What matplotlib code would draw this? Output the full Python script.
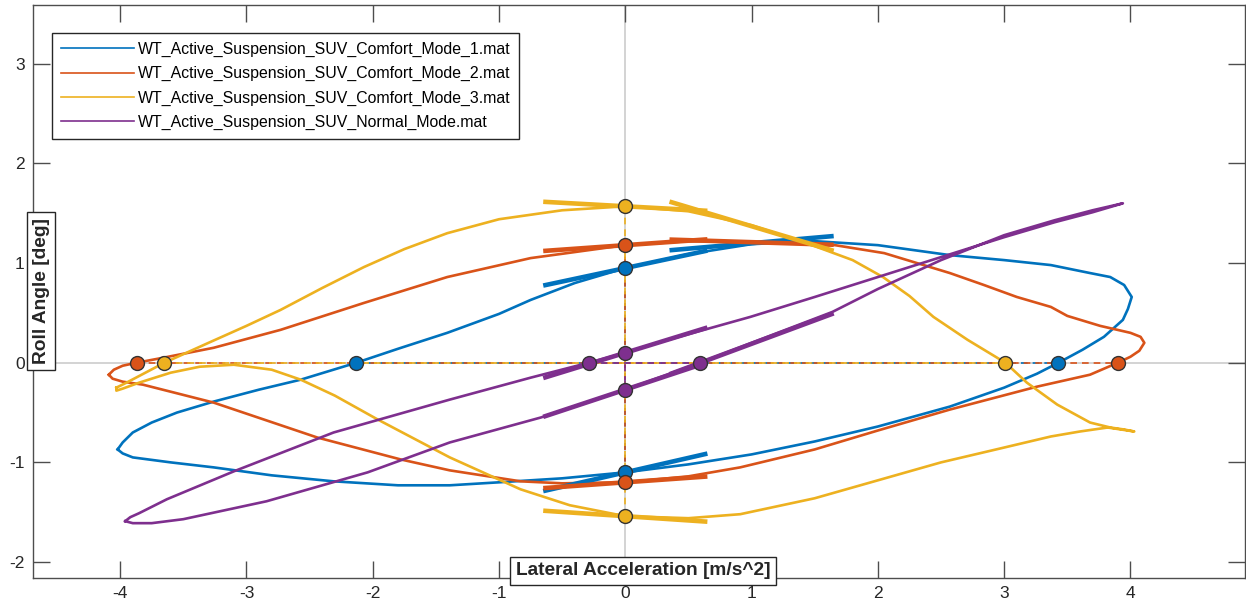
import matplotlib.pyplot as plt
from matplotlib.lines import Line2D
from matplotlib import font_manager
import numpy as np

plt.rcParams['font.family'] = ['Liberation Sans', 'DejaVu Sans']
plt.rcParams['axes.unicode_minus'] = False

names = ["WT_Active_Suspension_SUV_Comfort_Mode_1.mat",
         "WT_Active_Suspension_SUV_Comfort_Mode_2.mat",
         "WT_Active_Suspension_SUV_Comfort_Mode_3.mat",
         "WT_Active_Suspension_SUV_Normal_Mode.mat"]
colors = ["#0072BD", "#D95319", "#EDB120", "#7E2F8E"]

# lateral acceleration [m/s^2] vs roll angle [deg], one closed loop per run
comf1_ay = [-4.02, -3.98, -3.9, -3.75, -3.55, -3.26, -2.9, -2.57, -2.13, -1.8, -1.41, -1.0, -0.75, -0.4, 0.0,
            0.5, 1.0, 1.5, 2.0, 2.57, 3.0, 3.37, 3.68, 3.84, 3.95, 4.01, 3.98, 3.94, 3.79, 3.62, 3.43,
            3.26, 3.0, 2.57, 2.0, 1.5, 1.0, 0.5, 0.0, -0.5, -1.0, -1.39, -1.8, -2.31, -2.8, -3.26,
            -3.6, -3.9, -3.98, -4.02]
comf1_roll = [-0.87, -0.8, -0.7, -0.6, -0.5, -0.39, -0.27, -0.17, 0.0, 0.14, 0.3, 0.49, 0.63, 0.8, 0.95,
              1.09, 1.19, 1.22, 1.18, 1.08, 1.03, 0.98, 0.9, 0.86, 0.78, 0.66, 0.54, 0.43, 0.26, 0.13, 0.0,
              -0.11, -0.25, -0.44, -0.64, -0.79, -0.92, -1.02, -1.1, -1.16, -1.2, -1.23, -1.23, -1.19, -1.13, -1.05,
              -1.0, -0.95, -0.91, -0.87]

comf2_ay = [-4.09, -4.05, -3.98, -3.87, -3.66, -3.26, -2.73, -2.07, -1.41, -0.75, 0.0, 0.5, 0.99, 1.66, 2.05,
            2.57, 2.84, 3.1, 3.37, 3.5, 3.76, 4.0, 4.08, 4.11, 4.07, 4.0, 3.9, 3.68, 3.26, 2.57, 2.0, 1.5,
            0.91, 0.5, 0.0, -0.5, -0.83, -1.39, -1.78, -2.44, -3.26, -3.82, -3.98, -4.06, -4.09]
comf2_roll = [-0.12, -0.07, -0.03, 0.0, 0.05, 0.15, 0.33, 0.6, 0.86, 1.05, 1.18, 1.22, 1.21, 1.18, 1.1,
              0.9, 0.78, 0.66, 0.56, 0.47, 0.37, 0.3, 0.26, 0.2, 0.12, 0.06, 0.0, -0.12, -0.24, -0.47, -0.68, -0.87,
              -1.05, -1.14, -1.2, -1.21, -1.19, -1.08, -0.97, -0.75, -0.4, -0.22, -0.19, -0.16, -0.12]

comf3_ay = [-4.03, -3.95, -3.8, -3.65, -3.3, -3.0, -2.73, -2.4, -2.07, -1.75, -1.41, -1.0, -0.5, 0.0, 0.5,
            1.0, 1.5, 1.8, 2.04, 2.25, 2.44, 2.71, 3.01, 3.18, 3.42, 3.68, 3.84, 3.95, 4.03, 3.82, 3.6,
            3.37, 2.97, 2.5, 2.0, 1.5, 0.91, 0.5, 0.0, -0.44, -0.83, -1.39, -1.96, -2.3, -2.57, -2.8,
            -3.1, -3.37, -3.6, -3.85, -3.98, -4.03, -4.03]
comf3_roll = [-0.25, -0.2, -0.1, 0.0, 0.2, 0.37, 0.53, 0.75, 0.96, 1.14, 1.3, 1.44, 1.53, 1.57, 1.52,
              1.38, 1.17, 1.03, 0.86, 0.67, 0.46, 0.23, 0.0, -0.2, -0.42, -0.6, -0.65, -0.67, -0.69, -0.65, -0.69,
              -0.74, -0.86, -1.0, -1.18, -1.36, -1.52, -1.56, -1.54, -1.43, -1.27, -0.95, -0.57, -0.33, -0.17, -0.07,
              -0.02, -0.04, -0.1, -0.2, -0.26, -0.28, -0.25]

normal_ay = [-3.96, -3.92, -3.85, -3.63, -3.1, -2.31, -1.39, -0.75, -0.29, 0.0, 0.2, 0.99, 1.5, 2.0, 2.5,
             3.0, 3.4, 3.7, 3.94, 3.7, 3.4, 3.0, 2.5, 2.0, 1.64, 1.0, 0.59, 0.0, -0.67, -1.39, -2.04,
             -2.84, -3.5, -3.75, -3.9, -3.96]
normal_roll = [-1.59, -1.55, -1.51, -1.37, -1.09, -0.7, -0.37, -0.15, 0.0, 0.1, 0.18, 0.46, 0.66, 0.86, 1.06,
               1.26, 1.41, 1.51, 1.6, 1.53, 1.43, 1.28, 1.03, 0.74, 0.51, 0.2, 0.0, -0.27, -0.55, -0.8, -1.1,
               -1.39, -1.57, -1.61, -1.61, -1.59]

# zero crossings: ay where roll = 0, roll where ay = 0
ay_at_zero_roll = [[-2.13, 3.43], [-3.87, 3.90], [-3.65, 3.01], [-0.29, 0.59]]
roll_at_zero_ay = [[0.95, -1.10], [1.18, -1.20], [1.57, -1.54], [0.10, -0.27]]

# local gradients (centre ay, centre roll, slope)
grad_ay = [[0.0, 1.0, 0.0], [0.0, 1.0, 0.0], [0.0, 1.0, 0.0], [0.0, 0.0, 1.0]]
grad_roll = [[0.95, 1.20, -1.10], [1.18, 1.21, -1.20], [1.57, 1.37, -1.54], [0.10, -0.27, 0.19]]
grad_slope = [[0.27, 0.11, 0.29], [0.09, -0.04, 0.09], [-0.07, -0.38, -0.085], [0.39, 0.42, 0.47]]
half_width = 0.65

loops = [(comf1_ay, comf1_roll), (comf2_ay, comf2_roll), (comf3_ay, comf3_roll), (normal_ay, normal_roll)]

fig = plt.figure(figsize=(12.46, 6.10), dpi=100)
ax = fig.add_axes([0.0265, 0.0525, 0.973, 0.9393])
ax.set_xlim(-4.69, 4.91)
ax.set_ylim(-2.16, 3.59)

ax.axhline(0, color="#d0d0d0", lw=1.3, zorder=0)
ax.axvline(0, color="#d0d0d0", lw=1.3, zorder=0)

for i, (ay, roll) in enumerate(loops):
    c = colors[i]
    ax.plot(ay, roll, color=c, lw=1.9, zorder=2, solid_joinstyle="round")
    for x0, y0, k in zip(grad_ay[i], grad_roll[i], grad_slope[i]):
        xs = np.array([x0 - half_width, x0 + half_width])
        ax.plot(xs, y0 + k * (xs - x0), color=c, lw=3.3, solid_capstyle="butt", zorder=3)
    ax.plot(ay_at_zero_roll[i], [0, 0], color=c, lw=1.2, ls=(0, (4, 3)), zorder=1)
    ax.plot([0, 0], roll_at_zero_ay[i], color=c, lw=1.2, ls=(0, (4, 3)), zorder=1)

for i in range(4):
    ax.plot(ay_at_zero_roll[i], [0, 0], "o", ms=10, mfc=colors[i], mec="#333333", mew=1.0, zorder=5)
    ax.plot([0, 0], roll_at_zero_ay[i], "o", ms=10, mfc=colors[i], mec="#333333", mew=1.0, zorder=5)

ax.set_xticks(range(-4, 5))
ax.set_yticks(range(-2, 4))
ax.tick_params(direction="in", length=12, width=1.0, color="#4d4d4d", labelcolor="#262626",
               labelsize=12.5, top=True, right=True, pad=6)
for s in ax.spines.values():
    s.set_color("#4d4d4d")
    s.set_linewidth(1.0)

box = dict(boxstyle="square,pad=0.3", fc="white", ec="#262626", lw=1.0)
ax.text(0.14, -2.09, "Lateral Acceleration [m/s^2]", ha="center", va="center", fontsize=13.8,
        fontweight="bold", color="#262626", bbox=box, zorder=6)
ax.text(-4.626, 0.72, "Roll Angle [deg]", ha="center", va="center", rotation=90, fontsize=13.8,
        fontweight="bold", color="#262626", bbox=box, zorder=6)

# legend text is set in a narrow face when one is installed
installed = {f.name for f in font_manager.fontManager.ttflist}
if "Liberation Sans Narrow" in installed:
    leg_font = {"family": "Liberation Sans Narrow", "size": 13.6}
    leg_spacing = 0.35
else:
    leg_font = {"family": "Liberation Sans", "size": 11.4}
    leg_spacing = 0.58

handles = [Line2D([], [], color=c, lw=1.2) for c in colors]
leg = ax.legend(handles, names, loc="upper left", bbox_to_anchor=(0.0157, 0.951), borderaxespad=0,
                prop=leg_font, handlelength=4.6, handletextpad=0.25, labelspacing=leg_spacing,
                fancybox=False, framealpha=1, edgecolor="#262626", borderpad=0.55)
leg.get_frame().set_linewidth(1.0)

fig.savefig("out.png", dpi=100)
